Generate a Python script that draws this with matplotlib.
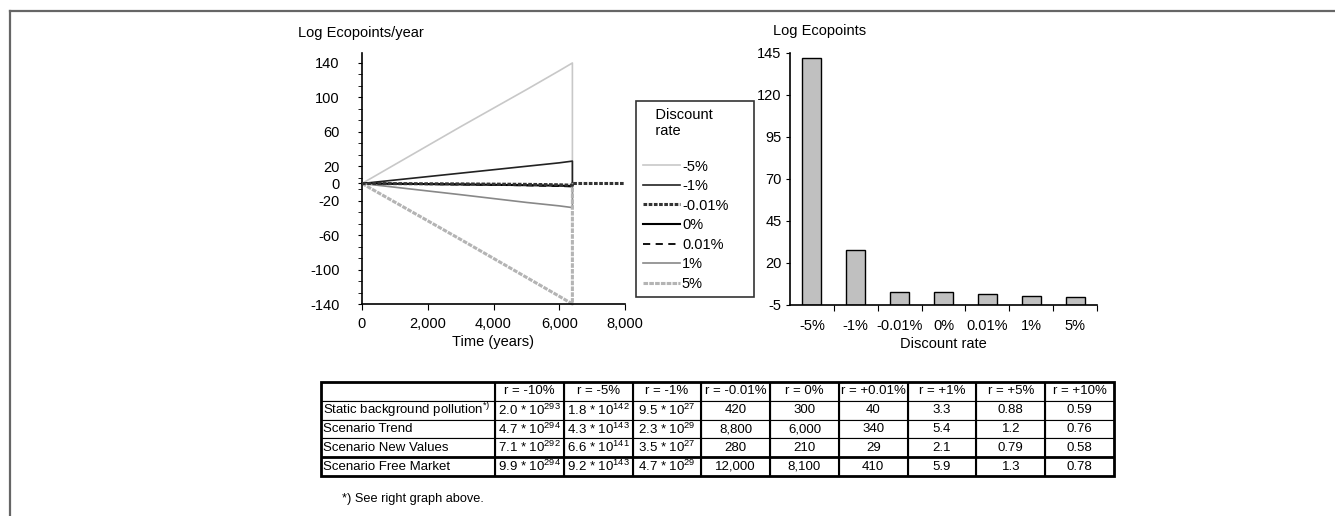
import matplotlib
matplotlib.use("Agg")
import matplotlib.pyplot as plt
from matplotlib.lines import Line2D
from matplotlib.patches import Rectangle
import numpy as np

plt.rcParams['font.family'] = ['Liberation Sans', 'DejaVu Sans']
plt.rcParams['mathtext.fontset'] = 'custom'
plt.rcParams['mathtext.rm'] = 'Liberation Sans'
plt.rcParams['mathtext.it'] = 'Liberation Sans:italic'
plt.rcParams['mathtext.bf'] = 'Liberation Sans:bold'
plt.rcParams['axes.unicode_minus'] = False

nan = np.nan

# left graph: log ecopoints per year over time, one line per discount rate
time_years = [0, 3000, 5000, 6000, 6400, 6400, 8000]
rate_labels = ['-5%', '-1%', '-0.01%', '0%', '0.01%', '1%', '5%']
log_m5 = [0, 66, 109, 131, 140, 0, nan]
log_m1 = [0, 12, 20, 24, 26, 0, nan]
log_m001 = [0, -0.5, -1, -1.5, -2, 0, 0]
log_0 = [0, -1, -2, -2.5, -3, 0, nan]
log_p001 = [0, -1.2, -2.2, -3, -3.5, 0, nan]
log_p1 = [0, -13, -22, -26, -28, 0, nan]
log_p5 = [0, -65, -109, -131, -140, 0, nan]

# right graph: log of total ecopoints per discount rate
total_log = [142.3, 28.0, 2.6, 2.5, 1.6, 0.5, -0.06]

# table below the graphs
col_labels = ['', 'r = -10%', 'r = -5%', 'r = -1%', 'r = -0.01%', 'r = 0%',
              'r = +0.01%', 'r = +1%', 'r = +5%', 'r = +10%']
row_static = ['Static background pollution$^{*)}$', '2.0 * 10$^{293}$', '1.8 * 10$^{142}$',
              '9.5 * 10$^{27}$', '420', '300', '40', '3.3', '0.88', '0.59']
row_trend = ['Scenario Trend', '4.7 * 10$^{294}$', '4.3 * 10$^{143}$', '2.3 * 10$^{29}$',
             '8,800', '6,000', '340', '5.4', '1.2', '0.76']
row_newval = ['Scenario New Values', '7.1 * 10$^{292}$', '6.6 * 10$^{141}$', '3.5 * 10$^{27}$',
              '280', '210', '29', '2.1', '0.79', '0.58']
row_free = ['Scenario Free Market', '9.9 * 10$^{294}$', '9.2 * 10$^{143}$', '4.7 * 10$^{29}$',
            '12,000', '8,100', '410', '5.9', '1.3', '0.78']

W, H = 1335, 516
fs = 10.5
fig = plt.figure(figsize=(W / 100, H / 100), dpi=100)

# ---- left graph
ax1 = fig.add_axes([362 / W, 1 - 304 / H, 263 / W, 251 / H])
styles = [
    dict(color='#c8c8c8', lw=1.2),
    dict(color='#222222', lw=1.2),
    dict(color='#333333', lw=2.2, dashes=(1.2, 0.5), zorder=4),
    dict(color='black', lw=1.5),
    dict(color='black', lw=1.3, dashes=(4, 3)),
    dict(color='#888888', lw=1.2),
    dict(color='#b4b4b4', lw=2.2, dashes=(1.5, 0.4)),
]
series = [log_m5, log_m1, log_m001, log_0, log_p001, log_p1, log_p5]
for vals, lab, st in zip(series, rate_labels, styles):
    ax1.plot(time_years, vals, label=lab, clip_on=False, **st)

ax1.set_xlim(0, 8000)
ax1.set_ylim(-140, 151.6)
ax1.set_xticks([0, 2000, 4000, 6000, 8000])
ax1.set_xticklabels(['0', '2,000', '4,000', '6,000', '8,000'])
ax1.set_yticks([140, 100, 60, 20, 0, -20, -60, -100, -140])
ax1.set_yticks(np.arange(-140, 152, 40 / 3), minor=True)
for s in ['top', 'right']:
    ax1.spines[s].set_visible(False)
for s in ['left', 'bottom']:
    ax1.spines[s].set_linewidth(1.2)
ax1.tick_params(axis='y', which='major', length=3, pad=13, labelsize=fs)
ax1.tick_params(axis='y', which='minor', length=3)
ax1.tick_params(axis='x', length=4, pad=5, labelsize=fs)
ax1.set_xlabel('Time (years)', fontsize=fs, labelpad=3)
fig.text(298 / W, 1 - 33 / H, 'Log Ecopoints/year', fontsize=fs, va='center', ha='left')

leg = fig.legend(ax1.get_lines(), rate_labels, loc='upper left',
                 bbox_to_anchor=(636 / W, 1 - 301 / H, 118 / W, 200 / H),
                 mode='expand', borderaxespad=0, title='   Discount\n   rate\n',
                 alignment='left', fontsize=fs, title_fontsize=fs, fancybox=False,
                 handlelength=2.55, handletextpad=0.15, labelspacing=0.38, borderpad=0.45)
leg.get_frame().set_edgecolor('black')
leg.get_frame().set_linewidth(1.2)

# ---- right graph
ax2 = fig.add_axes([790 / W, 1 - 305 / H, 307 / W, 252 / H])
ymin = -5
xpos = np.arange(len(rate_labels)) + 0.5
ax2.bar(xpos, np.array(total_log) - ymin, bottom=ymin, width=0.43,
        color='#c0c0c0', edgecolor='black', linewidth=1)
ax2.set_xlim(0, len(rate_labels))
ax2.set_ylim(ymin, 145)
ax2.set_yticks([-5, 20, 45, 70, 95, 120, 145])
ax2.set_xticks(np.arange(1, len(rate_labels) + 1))
ax2.set_xticklabels([])
ax2.set_xticks(xpos, minor=True)
ax2.set_xticklabels(rate_labels, minor=True)
for s in ['top', 'right']:
    ax2.spines[s].set_visible(False)
for s in ['left', 'bottom']:
    ax2.spines[s].set_linewidth(1.2)
ax2.tick_params(axis='x', which='major', length=4)
ax2.tick_params(axis='x', which='minor', length=0, pad=10, labelsize=fs)
ax2.tick_params(axis='y', length=3, pad=3, labelsize=fs)
ax2.set_xlabel('Discount rate', fontsize=fs, labelpad=3)
fig.text(773 / W, 1 - 31 / H, 'Log Ecopoints', fontsize=fs, va='center', ha='left')

# ---- table
axt = fig.add_axes([321 / W, 1 - 476 / H, 793 / W, 94 / H])
axt.axis('off')
col_w = [174] + [68.8] * 9
col_w = [c / sum(col_w) for c in col_w]
rows = [row_static, row_trend, row_newval, row_free]
tab = axt.table(cellText=rows, colLabels=col_labels, colWidths=col_w,
                cellLoc='center', bbox=[0, 0, 1, 1])
tab.auto_set_font_size(False)
tab.set_fontsize(9.5)
for (r, c), cell in tab.get_celld().items():
    cell.set_linewidth(0.8)
    if c == 0 and r > 0:
        cell.set_text_props(ha='left')
        cell.PAD = 0.01
for xb in np.cumsum(col_w)[:-1]:
    axt.axvline(xb, color='black', lw=1.5)
axt.axhline(0.2, color='black', lw=2)
axt.add_patch(Rectangle((0, 0), 1, 1, fill=False, lw=2, edgecolor='black',
                        transform=axt.transAxes, clip_on=False))
fig.text(342 / W, 1 - 499 / H, '*) See right graph above.', fontsize=9.2,
         va='center', ha='left')

# ---- page frame
fig.add_artist(Line2D([9.5 / W, 1], [1 - 10.5 / H] * 2, transform=fig.transFigure,
                      color='#666666', lw=1.6))
fig.add_artist(Line2D([9.5 / W] * 2, [0, 1 - 10.5 / H], transform=fig.transFigure,
                      color='#666666', lw=1.6))

fig.savefig('out.png', dpi=100)
